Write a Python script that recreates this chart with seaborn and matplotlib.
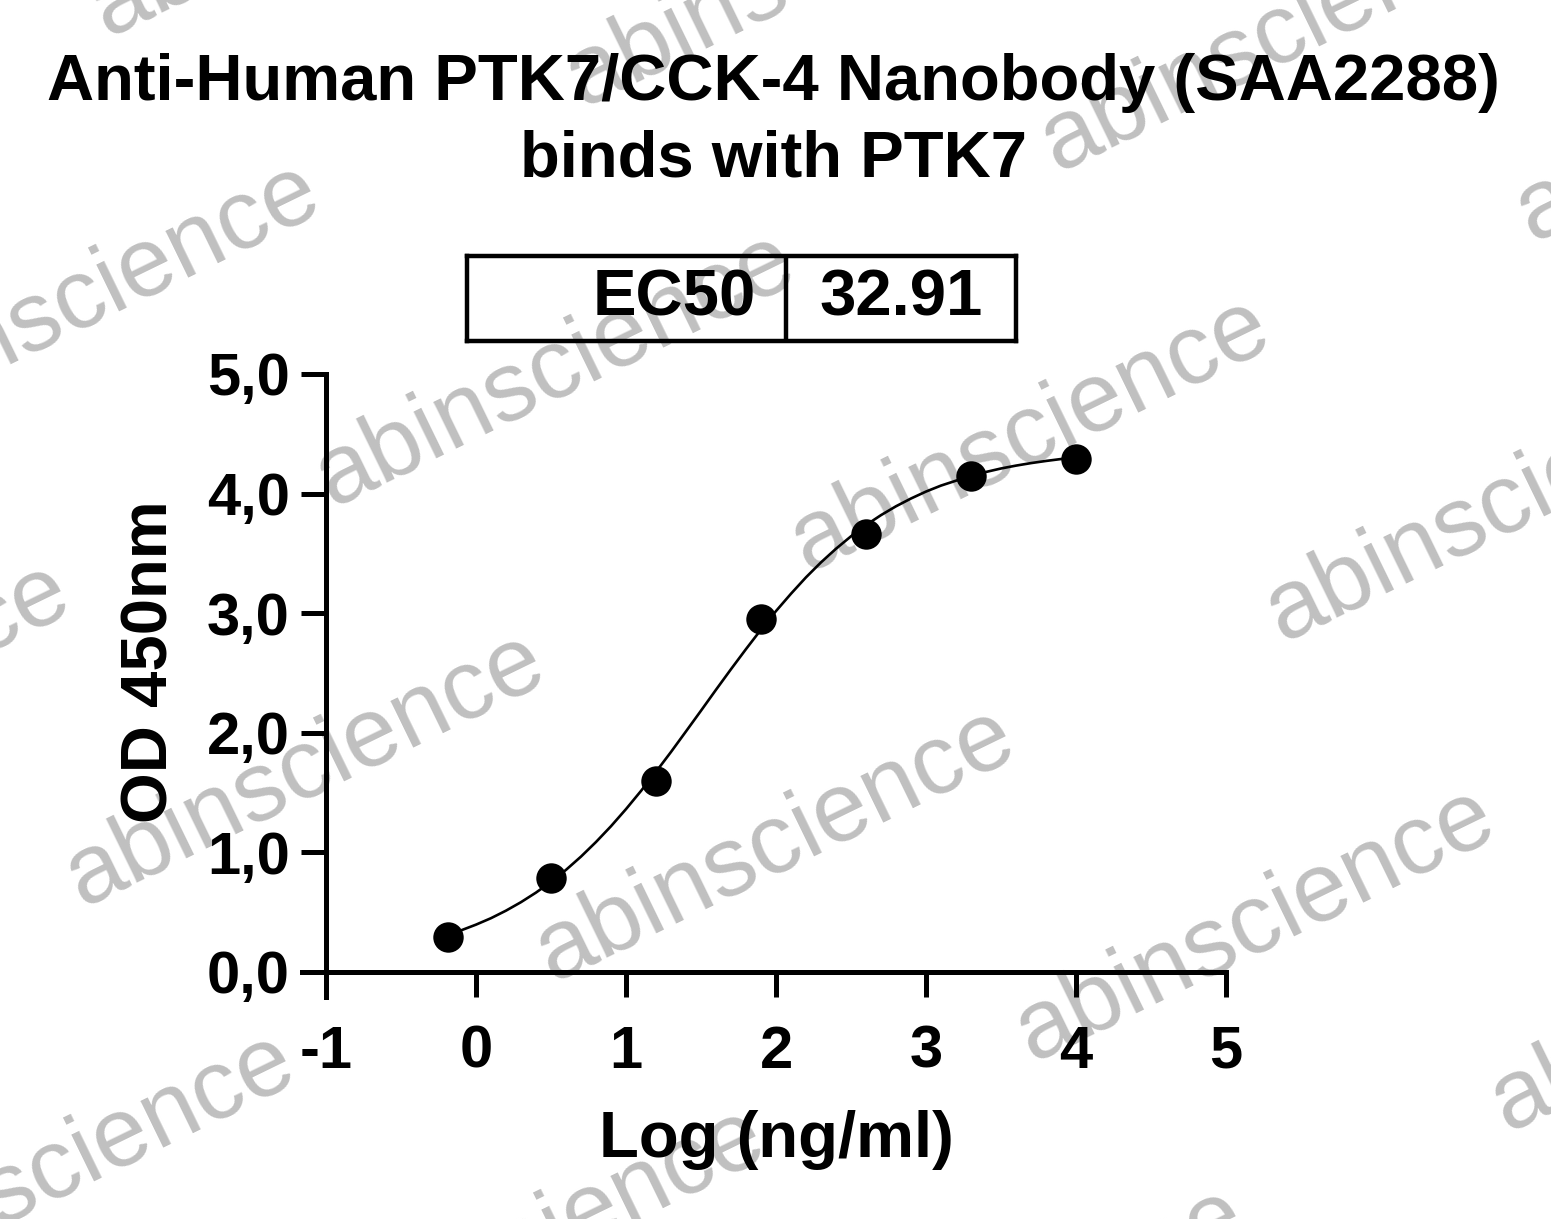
import numpy as np
import pandas as pd
import matplotlib
matplotlib.use("Agg")
import matplotlib.pyplot as plt
import seaborn as sns

# ---- data ----
log_conc = [-0.19, 0.50, 1.20, 1.90, 2.60, 3.30, 4.00]
od450 = [0.29, 0.79, 1.60, 2.95, 3.66, 4.15, 4.29]

curve_x = [-0.2, -0.1, 0.0, 0.1, 0.2, 0.3, 0.4, 0.5, 0.6, 0.7, 0.8, 0.9,
           1.0, 1.1, 1.2, 1.3, 1.4, 1.5, 1.6, 1.7, 1.8, 1.9, 2.0, 2.1,
           2.2, 2.3, 2.4, 2.5, 2.6, 2.7, 2.8, 2.9, 3.0, 3.1, 3.2, 3.3,
           3.4, 3.5, 3.6, 3.7, 3.8, 3.9, 4.0]
curve_y = [0.306, 0.348, 0.396, 0.450, 0.513, 0.584, 0.664, 0.754, 0.854,
           0.965, 1.087, 1.219, 1.362, 1.514, 1.674, 1.840, 2.012, 2.185,
           2.360, 2.532, 2.700, 2.863, 3.018, 3.163, 3.300, 3.425, 3.539,
           3.643, 3.737, 3.820, 3.894, 3.959, 4.017, 4.067, 4.108, 4.149,
           4.181, 4.210, 4.234, 4.255, 4.273, 4.289, 4.302]

x_ticks = [-1, 0, 1, 2, 3, 4, 5]
x_tick_labels = ["-1", "0", "1", "2", "3", "4", "5"]
y_ticks = [0, 1, 2, 3, 4, 5]
y_tick_labels = ["0,0", "1,0", "2,0", "3,0", "4,0", "5,0"]

title_text = "Anti-Human PTK7/CCK-4 Nanobody (SAA2288)\nbinds with PTK7"
ec50_label = "EC50"
ec50_value = "32.91"
watermark = "abinscience"
wm_centers_px = [(555, 370), (1030, 435), (305, 770), (775, 845), (1255, 925),
                 (80, 300), (805, -30), (1280, 35), (1505, 505), (1755, 105),
                 (-170, 700), (55, 1170), (525, 1245), (1730, 995), (330, -100),
                 (1005, 1325)]

# ---- style ----
sns.set_style("white")
plt.rcParams['font.family'] = ['Liberation Sans', 'DejaVu Sans']
plt.rcParams['text.color'] = 'black'
plt.rcParams['axes.labelcolor'] = 'black'
plt.rcParams['xtick.color'] = 'black'
plt.rcParams['ytick.color'] = 'black'

W, H = 1551, 1219
fig = plt.figure(figsize=(W / 100, H / 100), dpi=100)
fig.patch.set_facecolor("white")

# watermarks (beneath everything)
for (cx, cy) in wm_centers_px:
    fig.text(cx / W, 1 - cy / H, watermark, fontsize=71, color="#c0c0c0",
             rotation=26, ha="center", va="center", rotation_mode="anchor",
             zorder=-5)

ax = fig.add_axes([326 / W, 1 - 972 / H, (1226 - 326) / W, (972 - 374) / H])
ax.set_facecolor("none")

curve_df = pd.DataFrame({"x": curve_x, "y": curve_y})
pts_df = pd.DataFrame({"x": log_conc, "y": od450})
sns.lineplot(data=curve_df, x="x", y="y", ax=ax, color="black", linewidth=1.9,
             sort=True, clip_on=False)
sns.scatterplot(data=pts_df, x="x", y="y", ax=ax, color="black", s=480,
                edgecolor="black", linewidth=0, zorder=5, clip_on=False)

ax.set_xlim(-1, 5)
ax.set_ylim(0, 5)
ax.set_xticks(x_ticks)
ax.set_xticklabels(x_tick_labels)
ax.set_yticks(y_ticks)
ax.set_yticklabels(y_tick_labels)

for s in ["top", "right"]:
    ax.spines[s].set_visible(False)
for s in ["left", "bottom"]:
    ax.spines[s].set_linewidth(3.6)
    ax.spines[s].set_color("black")
ax.spines["left"].set_bounds(-0.21, 5)
ax.spines["bottom"].set_bounds(-1.16, 5)

ax.tick_params(axis="both", which="major", direction="out", length=18,
               width=3.6, color="black", labelsize=43, labelcolor="black",
               bottom=True, left=True, top=False, right=False)
ax.tick_params(axis="x", pad=20)
ax.tick_params(axis="y", pad=8)
for lab in ax.get_xticklabels() + ax.get_yticklabels():
    lab.set_fontweight("bold")

ax.set_xlabel("Log (ng/ml)", fontsize=47, fontweight="bold", color="black")
ax.set_ylabel("OD 450nm", fontsize=47, fontweight="bold", color="black")
ax.xaxis.set_label_coords(0.5, (972 - 1140) / 598)
ax.yaxis.set_label_coords((150 - 326) / 900, (972 - 662) / 598)
ax.xaxis.label.set_va("center")
ax.yaxis.label.set_va("center")

# title
fig.text(773 / W, 1 - 121 / H, title_text, fontsize=47, fontweight="bold",
         ha="center", va="center", linespacing=1.36, color="black")

# EC50 box
bx0, bx1, by0, by1, bdiv = 467, 1016, 256, 341, 786
box_ax = fig.add_axes([bx0 / W, 1 - by1 / H, (bx1 - bx0) / W, (by1 - by0) / H])
box_ax.set_xlim(bx0, bx1)
box_ax.set_ylim(by1, by0)
box_ax.set_facecolor("none")
for s in box_ax.spines.values():
    s.set_linewidth(3.2)
    s.set_color("black")
box_ax.set_xticks([])
box_ax.set_yticks([])
box_ax.axvline(bdiv, color="black", linewidth=3.2)
box_ax.text(756, (by0 + by1) / 2, ec50_label, fontsize=47, fontweight="bold",
            ha="right", va="center", color="black")
box_ax.text((bdiv + bx1) / 2, (by0 + by1) / 2, ec50_value, fontsize=47,
            fontweight="bold", ha="center", va="center", color="black")

fig.savefig("out.png", dpi=100, facecolor="white")
